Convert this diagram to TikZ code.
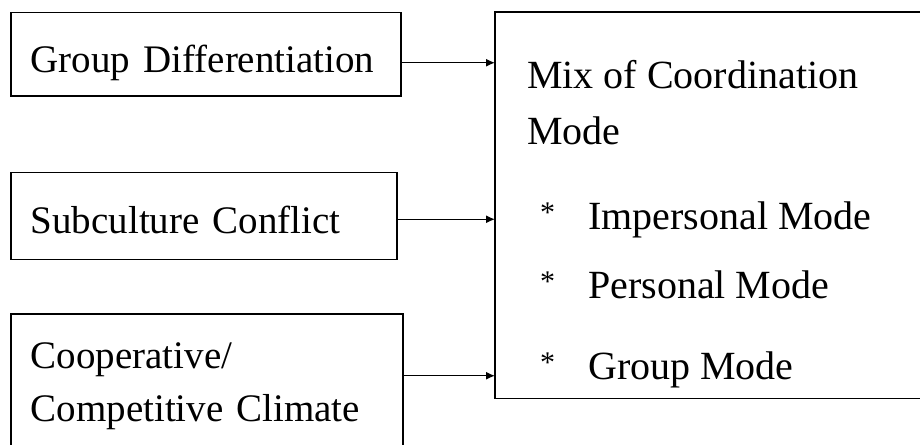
\documentclass[tikz,border=0pt]{standalone}
\usepackage{fontspec}
\setmainfont{Liberation Serif}
\usetikzlibrary{positioning, arrows.meta}

\tikzset{
    factor/.style={draw, rectangle, line width=1.5pt, inner xsep=20pt, inner ysep=0pt, anchor=north west, align=left, font=\fontsize{39}{53}\selectfont},
    oneline/.style={text height=36pt, text depth=0pt},
    flow/.style={-{Latex[length=9pt, width=8pt]}, line width=1.3pt},
}
\newcommand{\modeitem}{\hspace*{13pt}\makebox[48pt][l]{\raisebox{7pt}{\fontsize{30}{30}\selectfont *}}}

\begin{document}
\begin{tikzpicture}[x=1pt, y=-1pt]
    \useasboundingbox (0,0) rectangle (920,444);
    \clip (0,0) rectangle (920,444);

    % Factors
    \node[factor, oneline, text width=350pt, minimum height=83pt] (gd) at (10,12) {Group Differentiation};
    \node[factor, oneline, text width=346pt, minimum height=87pt, below=75pt of gd.south west, anchor=north west] (sc) {Subculture Conflict};
    \node[factor, text width=352pt, minimum height=145pt, below=53pt of sc.south west, anchor=north west] (cc) {Cooperative/\\Competitive Climate};

    % Outcome (runs off the right edge)
    \node[rectangle, anchor=north west, minimum width=440pt, minimum height=386pt] (mix) at (495,12) {};
    \draw[line width=1.5pt] (mix.north east) -- (mix.north west) -- (mix.south west) -- (mix.south east);
    \node[anchor=north west, inner sep=0pt, align=left, font=\fontsize{40}{56}\selectfont] (modes) at ([xshift=32pt, yshift=-47.7pt]mix.north west)
        {Mix of Coordination\\Mode\\[29pt]
         \modeitem Impersonal Mode\\[13pt]
         \modeitem Personal Mode\\[25pt]
         \modeitem Group Mode};

    % Connections
    \draw[flow] ([yshift=-8.5pt]gd.east) -- ([yshift=-8.5pt]gd.east -| mix.west);
    \draw[flow] ([yshift=-3.5pt]sc.east) -- ([yshift=-3.5pt]sc.east -| mix.west);
    \draw[flow] ([yshift=10.5pt]cc.east) -- ([yshift=10.5pt]cc.east -| mix.west);
\end{tikzpicture}
\end{document}
